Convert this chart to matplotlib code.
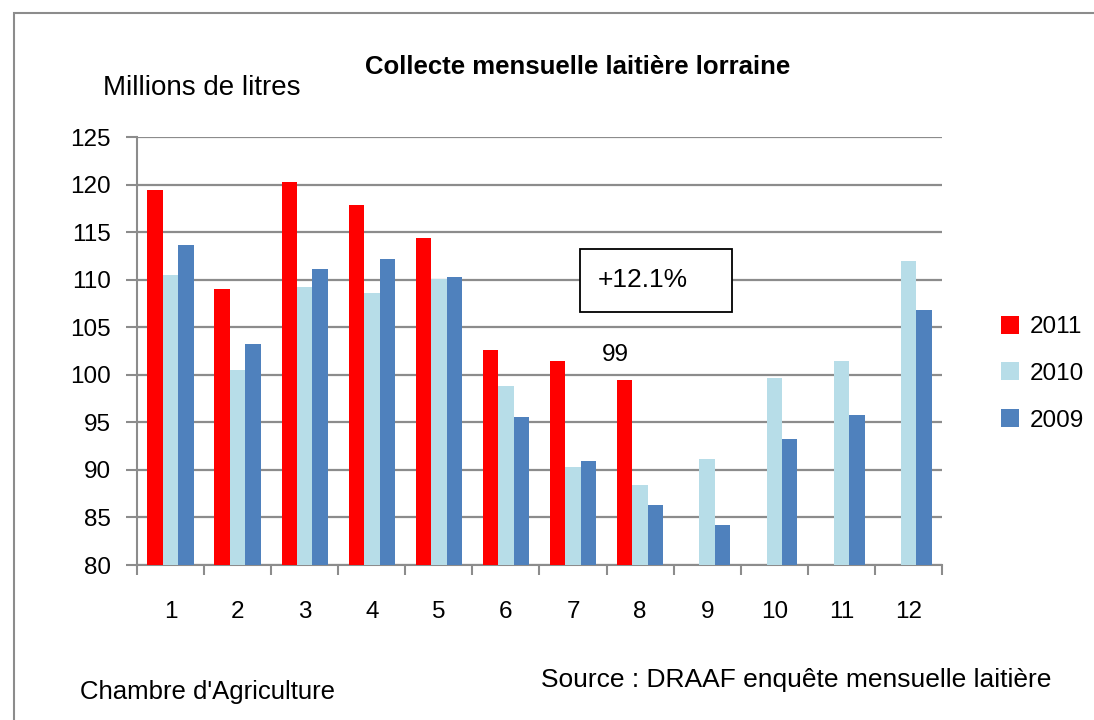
import numpy as np
import matplotlib.pyplot as plt
from matplotlib.patches import Rectangle

plt.rcParams['font.family'] = ['Liberation Sans', 'DejaVu Sans']

months = [str(m) for m in range(1, 13)]
collecte_2011 = [119.4, 109.0, 120.3, 117.8, 114.4, 102.6, 101.5, 99.4, np.nan, np.nan, np.nan, np.nan]
collecte_2010 = [110.5, 100.5, 109.2, 108.6, 110.1, 98.8, 90.3, 88.4, 91.1, 99.7, 101.5, 112.0]
collecte_2009 = [113.6, 103.2, 111.1, 112.2, 110.3, 95.6, 90.9, 86.3, 84.2, 93.3, 95.8, 106.8]
years = ['2011', '2010', '2009']
colors = ['#FF0000', '#B7DDE8', '#4F81BD']

W, H = 1094, 720
fig = plt.figure(figsize=(W / 100, H / 100), dpi=100)

# cadre gris du graphique (coupé à droite et en bas)
fig.patches.append(Rectangle((14 / W, -0.05), 1.1, 1 - 13 / H + 0.05, transform=fig.transFigure,
                             fill=False, edgecolor='#8c8c8c', linewidth=1.5))

ax = fig.add_axes([137 / W, 1 - 565 / H, 805 / W, 428 / H])
x = np.arange(len(months))
width = 0.23
series = [collecte_2011, collecte_2010, collecte_2009]
for i, (vals, year, col) in enumerate(zip(series, years, colors)):
    ax.bar(x + (i - 1) * width, vals, width, color=col, label=year, zorder=3)

ax.set_ylim(80, 125)
ax.set_xlim(-0.5, 11.5)
ax.set_yticks(range(80, 126, 5))
ax.set_xticks(x)
ax.set_xticklabels(months)
ax.set_xticks(np.arange(-0.5, 12, 1), minor=True)
ax.tick_params(axis='x', which='major', length=0, pad=26, labelsize=17.5)
ax.tick_params(axis='x', which='minor', length=7, width=1.5, color='#8c8c8c')
ax.tick_params(axis='y', length=8, width=1.5, color='#8c8c8c', pad=11, labelsize=17.5)
ax.yaxis.grid(True, color='#8c8c8c', linewidth=1.6, zorder=0)
ax.set_axisbelow(True)
for s in ['top', 'right']:
    ax.spines[s].set_visible(False)
ax.spines['left'].set_color('#8c8c8c')
ax.spines['left'].set_linewidth(1.5)
ax.spines['bottom'].set_color('#8c8c8c')
ax.spines['bottom'].set_linewidth(1.5)

ax.legend(loc='center left', bbox_to_anchor=(1.046, 0.447), frameon=False, fontsize=17.5,
          handlelength=0.75, handleheight=0.75, handletextpad=0.45, labelspacing=1.0)

ax.text(6.63, 102.1, '99', ha='center', va='center', fontsize=17.5)

# encadré de l'évolution
fig.patches.append(Rectangle((580 / W, 1 - 312 / H), 152 / W, 63 / H, transform=fig.transFigure,
                             facecolor='white', edgecolor='black', linewidth=1.3, zorder=5))
fig.text(643 / W, 1 - 280 / H, '+12.1%', ha='center', va='center', fontsize=19, zorder=6)

fig.text(578 / W, 1 - 67 / H, 'Collecte mensuelle laitière lorraine', ha='center', va='center',
         fontsize=18.5, fontweight='bold')
fig.text(103 / W, 1 - 88 / H, 'Millions de litres', ha='left', va='center', fontsize=20)
fig.text(80 / W, 1 - 692 / H, "Chambre d'Agriculture", ha='left', va='center', fontsize=18.5)
fig.text(541 / W, 1 - 680 / H, 'Source : DRAAF enquête mensuelle laitière', ha='left', va='center', fontsize=19)

fig.savefig('out.png', dpi=100)
